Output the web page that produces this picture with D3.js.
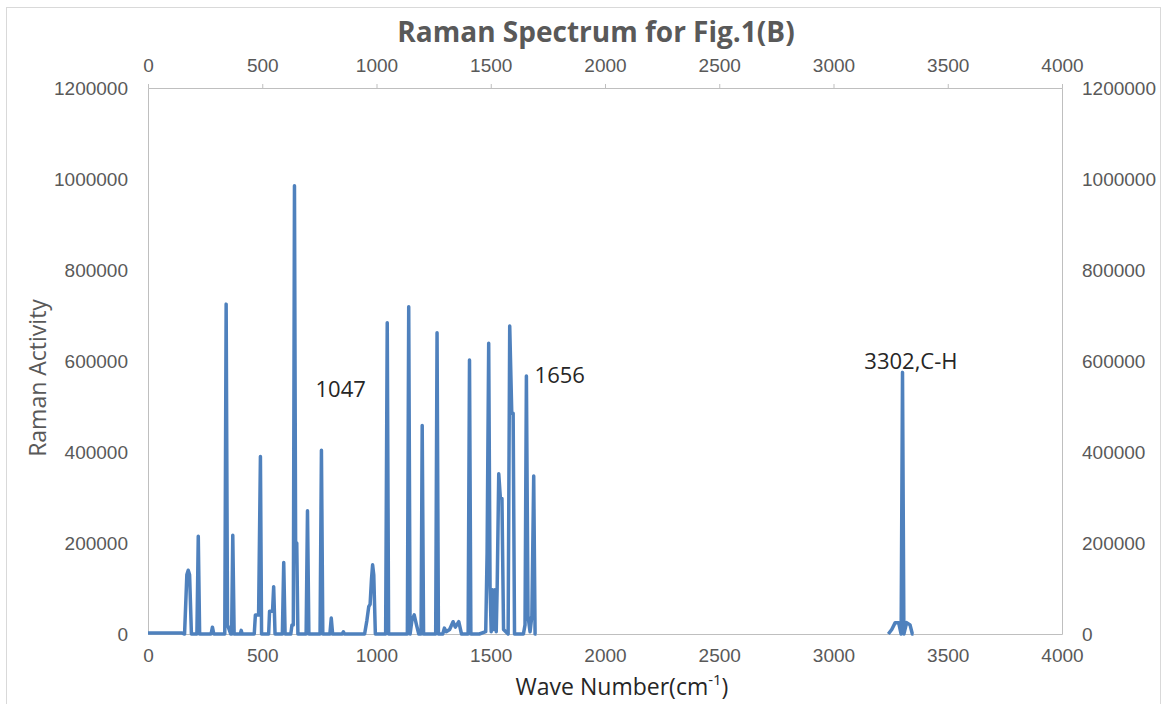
<!DOCTYPE html>
<html>
<head>
<meta charset="utf-8">
<script src="https://cdn.jsdelivr.net/npm/d3@7"></script>
<style>
  body { margin: 0; background: #fff; }
  svg { font-family: "Open Sans", "Liberation Sans", sans-serif; }
  .axis path, .axis line { stroke: #bfbfbf; }
  .axis text { fill: #595959; font-size: 19px; }
</style>
</head>
<body>
<div id="chart"></div>
<script>
// spectrum: wave number (cm-1) and Raman activity
// null marks the gap where the curve is not drawn
var waveNumbers = [
  0, 150, 160, 170, 176, 182, 190,
  214, 220, 226, 276, 282, 288,
  336, 342, 348, 362, 366, 371, 377,
  404, 408, 412,
  465, 470, 484, 492, 497,
  528, 532, 545, 550, 556,
  588, 594, 600,
  625, 630, 636, 641, 646, 651, 656,
  692, 698, 704,
  753, 759, 765,
  796, 802, 808,
  850, 855, 860,
  948, 958, 966, 972, 978, 983, 988, 995,
  1040, 1047, 1053,
  1135, 1141, 1147, 1155, 1165, 1175, 1185,
  1195, 1200, 1206,
  1259, 1265, 1271,
  1290, 1297, 1305, 1320, 1335, 1345, 1360, 1372,
  1401, 1407, 1413,
  1450, 1478, 1484, 1491, 1497, 1502, 1507, 1512, 1518, 1524, 1528, 1535, 1542, 1549, 1556,
  1576, 1583, 1592, 1598, 1604,
  1643, 1650, 1656, 1663, 1672, 1680, 1688, 1694, 1700,
  2500,
  3240, 3255, 3270, 3285, 3296, 3302, 3308, 3320, 3335, 3345, 3350
];
var activity = [
  2000, 2000, 0, 130000, 140000, 130000, 0,
  0, 215000, 0, 0, 15000, 0,
  0, 725000, 20000, 0, 0, 217000, 0,
  0, 8000, 0,
  0, 42000, 42000, 390000, 0,
  0, 50000, 50000, 104000, 0,
  0, 157000, 0,
  0, 20000, 20000, 985000, 200000, 200000, 0,
  0, 271000, 0,
  0, 404000, 0,
  0, 35000, 0,
  0, 5000, 0,
  0, 30000, 60000, 65000, 120000, 152000, 130000, 0,
  0, 684000, 0,
  0, 719000, 0, 30000, 42000, 20000, 0,
  0, 458000, 0,
  0, 662000, 0,
  0, 13000, 5000, 10000, 27000, 15000, 27000, 0,
  0, 602000, 0,
  0, 5000, 178000, 639000, 100000, 5000, 97000, 10000, 97000, 5000, 100000, 352000, 300000, 298000, 10000,
  0, 677000, 485000, 485000, 0,
  0, 20000, 567000, 40000, 5000, 40000, 347000, 0, 0,
  null,
  0, 10000, 25000, 25000, 0, 575000, 0, 25000, 20000, 0, 0
];

var xTicks = [0, 500, 1000, 1500, 2000, 2500, 3000, 3500, 4000];
var yTicks = [0, 200000, 400000, 600000, 800000, 1000000, 1200000];

var peakLabels = ["1047", "1656", "3302,C-H"];
var peakLabelX = [733, 1692, 3135];
var peakLabelY = [521000, 552000, 582000];

var width = 1167;
var height = 704;
var plotLeft = 148, plotRight = 1062, plotTop = 88, plotBottom = 634;

var x = d3.scaleLinear().domain([0, 4000]).range([plotLeft, plotRight]);
var y = d3.scaleLinear().domain([0, 1200000]).range([plotBottom, plotTop]);

var svg = d3.select("#chart").append("svg")
  .attr("width", width)
  .attr("height", height);

svg.append("rect")
  .attr("x", 6.5).attr("y", 7.5)
  .attr("width", 1154).attr("height", 700)
  .attr("fill", "#fff")
  .attr("stroke", "#d9d9d9");

// axes on all four sides
svg.append("g").attr("class", "axis")
  .attr("transform", "translate(0," + plotTop + ")")
  .call(d3.axisTop(x).tickValues(xTicks).tickSize(4).tickPadding(12).tickFormat(d3.format("d")));

svg.append("g").attr("class", "axis")
  .attr("transform", "translate(0," + plotBottom + ")")
  .call(d3.axisBottom(x).tickValues(xTicks).tickSize(0).tickPadding(15).tickFormat(d3.format("d")));

svg.append("g").attr("class", "axis")
  .attr("transform", "translate(" + plotLeft + ",0)")
  .call(d3.axisLeft(y).tickValues(yTicks).tickSize(0).tickPadding(20).tickFormat(d3.format("d")));

svg.append("g").attr("class", "axis")
  .attr("transform", "translate(" + plotRight + ",0)")
  .call(d3.axisRight(y).tickValues(yTicks).tickSize(0).tickPadding(20).tickFormat(d3.format("d")));

svg.selectAll(".axis .domain").attr("stroke", "#bfbfbf");

// spectrum
var points = waveNumbers.map(function(w, i) { return {w: w, v: activity[i]}; });

var line = d3.line()
  .defined(function(d) { return d.v != null; })
  .x(function(d) { return x(d.w); })
  .y(function(d) { return y(d.v); });

svg.append("path")
  .datum(points)
  .attr("fill", "none")
  .attr("stroke", "#4f81bd")
  .attr("stroke-width", 3.5)
  .attr("stroke-linejoin", "round")
  .attr("d", line);

// peak labels
peakLabels.forEach(function(t, i) {
  svg.append("text")
    .attr("x", x(peakLabelX[i]))
    .attr("y", y(peakLabelY[i]))
    .attr("fill", "#262626")
    .attr("font-size", "22px")
    .text(t);
});

// titles
svg.append("text")
  .attr("x", 596).attr("y", 42)
  .attr("text-anchor", "middle")
  .attr("fill", "#595959")
  .attr("font-size", "28px")
  .attr("font-weight", "bold")
  .text("Raman Spectrum for Fig.1(B)");

var xl = svg.append("text")
  .attr("x", 622).attr("y", 695)
  .attr("text-anchor", "middle")
  .attr("fill", "#262626")
  .attr("font-size", "23px")
  .text("Wave Number(cm");
xl.append("tspan").attr("baseline-shift", "super").attr("font-size", "15px").text("-1");
xl.append("tspan").text(")");

svg.append("text")
  .attr("transform", "translate(46,378) rotate(-90)")
  .attr("text-anchor", "middle")
  .attr("fill", "#595959")
  .attr("font-size", "23px")
  .text("Raman Activity");
</script>
</body>
</html>
